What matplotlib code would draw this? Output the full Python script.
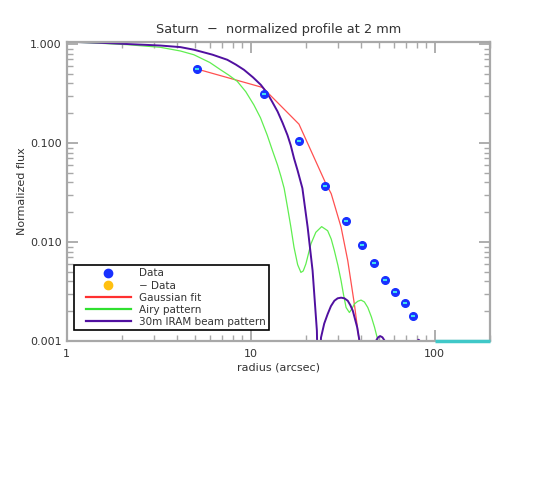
import matplotlib
matplotlib.use("Agg")
import matplotlib.pyplot as plt
from matplotlib.lines import Line2D
from matplotlib.legend_handler import HandlerLine2D

# Data points (radius in arcsec, normalized flux)
data_r = [5.12, 11.8, 18.3, 25.4, 33.0, 40.4, 47.0, 54.0, 61.2, 68.6, 75.8]
data_f = [0.558, 0.31, 0.105, 0.0368, 0.0163, 0.0093, 0.0061, 0.0041, 0.0031, 0.0024, 0.00179]

# Gaussian fit
gauss_r = [5.12, 11.6, 18.3, 25.4, 27.4, 31.0, 33.7, 36.6, 39.0, 40.5]
gauss_f = [0.558, 0.364, 0.155, 0.0403, 0.0307, 0.0141, 0.00648, 0.00236, 0.00096, 0.0006]

# Airy pattern
airy_r = [1.0, 1.4, 2.13, 3.23, 4.15, 4.91, 6.0, 6.86, 7.6, 8.46, 9.4, 10.4, 11.3,
          12.3, 13.1, 14.0, 14.6, 15.2, 15.85, 16.5, 17.2, 18.0, 18.75, 19.3, 19.95,
          20.6, 21.25, 22.6, 24.3, 26.2, 27.4, 28.5, 29.8, 31.0, 32.0, 33.0, 34.4,
          35.4, 36.6, 38.2, 39.8, 41.5, 43.3, 45.3, 47.1, 49.5, 51.5]
airy_f = [1.05, 1.025, 0.985, 0.926, 0.85, 0.779, 0.65, 0.549, 0.485, 0.419, 0.33, 0.243, 0.18,
          0.120, 0.085, 0.0597, 0.046, 0.0349, 0.0225, 0.0145, 0.00883, 0.0059, 0.00493, 0.0051, 0.0060,
          0.0076, 0.00957, 0.01254, 0.0143, 0.0130, 0.0107, 0.00818, 0.0058, 0.00406, 0.0029, 0.00218, 0.00194,
          0.0021, 0.00236, 0.00252, 0.00259, 0.00248, 0.00218, 0.00175, 0.00138, 0.00096, 0.0004]

# 30m IRAM beam pattern
beam_r = [1.0, 1.5, 2.13, 3.23, 4.15, 4.91, 6.2, 7.46, 8.3, 9.19, 10.3, 11.35, 12.3,
          13.1, 14.0, 14.9, 15.85, 16.5, 17.2, 17.98, 19.1, 20.4, 21.7, 22.9, 23.5,
          24.1, 25.1, 26.2, 27.3, 28.5, 29.7, 31.0, 32.3, 33.7, 34.8, 35.9, 37.9, 39.0, 39.7,
          46.2, 48.1, 49.3, 50.6, 52.0, 53.4, 55.0,
          78.0, 79.5, 81.8, 84.0, 85.5]
beam_f = [1.055, 1.03, 1.0, 0.965, 0.93, 0.876, 0.78, 0.693, 0.62, 0.549, 0.46, 0.387, 0.319,
          0.26, 0.208, 0.16, 0.120, 0.095, 0.070, 0.0529, 0.0349, 0.0141, 0.00513, 0.00127, 0.0001,
          0.00108, 0.0015, 0.00187, 0.00225, 0.00255, 0.0027, 0.00274, 0.0027, 0.00255, 0.0023, 0.00202, 0.00138, 0.00101, 0.0001,
          0.0001, 0.00101, 0.00109, 0.00112, 0.00109, 0.00101, 0.0001,
          0.0001, 0.00098, 0.00103, 0.00098, 0.0001]

# flat residual along the bottom edge
floor_r = [100, 200]
floor_f = [0.001, 0.001]

xticks = [1, 10, 100]
xticklabels = ["1", "10", "100"]
yticks = [0.001, 0.01, 0.1, 1.0]
yticklabels = ["0.001", "0.010", "0.100", "1.000"]

txt = "#333333"
grey = "#a8a8a8"

fig = plt.figure(figsize=(5.5, 5.0), dpi=100)
ax = fig.add_axes([0.1213, 0.318, 0.891 - 0.1213, 0.9166 - 0.318])
ax.set_xscale("log")
ax.set_yscale("log")

ax.plot(gauss_r, gauss_f, color="#ff5050", lw=0.9)
ax.plot(airy_r, airy_f, color="#60ee50", lw=0.9)
ax.plot(beam_r, beam_f, color="#5010a0", lw=1.4)
ax.plot(floor_r, floor_f, color="#40c8c8", lw=2.5, solid_capstyle="butt",
        clip_on=False, zorder=3)
ax.plot(data_r, data_f, "o", color="#1830ff", ms=5.5, mec="#1830ff", zorder=5)
ax.plot(data_r, data_f, "_", color="#40e0f0", ms=3.5, mew=1.5, zorder=6)

ax.set_xlim(1, 200)
ax.set_ylim(0.001, 1.055)
ax.set_xticks(xticks)
ax.set_xticklabels(xticklabels)
ax.set_yticks(yticks)
ax.set_yticklabels(yticklabels)

for s in ax.spines.values():
    s.set_color(grey)
    s.set_linewidth(1.6)
ax.tick_params(which="both", direction="in", top=True, right=True, color=grey,
               labelcolor=txt, labelsize=8)
ax.tick_params(which="major", length=8, width=1.3)
ax.tick_params(which="minor", length=4, width=1.0)
ax.tick_params(axis="x", which="major", pad=6)

ax.set_title("Saturn  \u2212  normalized profile at 2 mm", color=txt, fontsize=9.3, pad=6)
ax.set_xlabel("radius (arcsec)", color=txt, fontsize=8, labelpad=2)
ax.set_ylabel("Normalized flux", color=txt, fontsize=8, labelpad=2)

handles = [
    Line2D([], [], ls="none", marker="o", color="#1830ff", ms=6),
    Line2D([], [], ls="none", marker="o", color="#ffc010", ms=6),
    Line2D([], [], color="#ff3030", lw=1.6),
    Line2D([], [], color="#30e030", lw=1.6),
    Line2D([], [], color="#5010a0", lw=1.6),
]
labels = ["Data", "\u2212 Data", "Gaussian fit", "Airy pattern", "30m IRAM beam pattern"]
hl = HandlerLine2D(xpad=0.85)
leg = ax.legend(handles, labels, loc="lower left", bbox_to_anchor=(0.017, 0.037),
                borderaxespad=0, fancybox=False, framealpha=1, edgecolor="black",
                fontsize=7.5, handlelength=5.18, handletextpad=0.77, labelspacing=0.2,
                borderpad=0.3, handler_map={h: hl for h in handles})
leg.get_frame().set_linewidth(1.2)
for t in leg.get_texts():
    t.set_color(txt)

fig.savefig("out.png", dpi=100)
